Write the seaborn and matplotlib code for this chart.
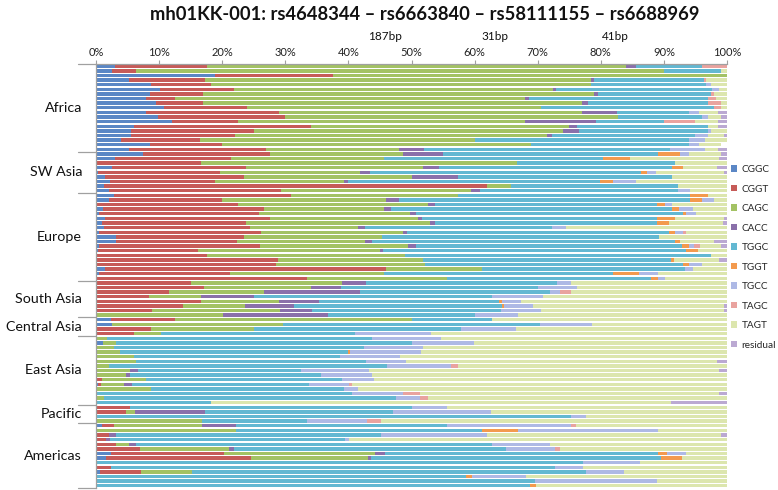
import numpy as np
import pandas as pd
import seaborn as sns
import matplotlib
matplotlib.use("Agg")
import matplotlib.pyplot as plt
from matplotlib.patches import Patch
from matplotlib.lines import Line2D
import matplotlib.transforms as mtransforms

# ---------------- data ----------------
title = "mh01KK-001: rs4648344 \u2013 rs6663840 \u2013 rs58111155 \u2013 rs6688969"
distances = ["187bp", "31bp", "41bp"]
haplotypes = ["CGGC", "CGGT", "CAGC", "CACC", "TGGC", "TGGT", "TGCC", "TAGC", "TAGT", "residual"]
colors = ["#5B87C5", "#C65B58", "#A3C264", "#8A70AA", "#63B8D2",
          "#F39A4E", "#AEB9E5", "#E9A39F", "#DCE6AE", "#BBA9D2"]
regions = ["Africa", "SW Asia", "Europe", "South Asia", "Central Asia",
           "East Asia", "Pacific", "Americas"]
x_ticks = [0, 10, 20, 30, 40, 50, 60, 70, 80, 90, 100]
x_tick_labels = [f"{v}%" for v in x_ticks]

# per-population haplotype frequencies (%), columns in order of `haplotypes`
africa = [
    [3.0, 14.6, 66.4, 1.5, 10.5, 0, 0, 4.0, 0, 0],
    [2.5, 3.9, 83.6, 0, 9.0, 0, 0, 0, 1.0, 0],
    [18.8, 18.8, 62.4, 0, 0, 0, 0, 0, 0, 0],
    [5.2, 12.0, 61.2, 0.5, 17.4, 0, 0, 0.4, 3.3, 0],
    [8.7, 9.6, 60.1, 0, 18.3, 0, 0.7, 0, 2.6, 0],
    [10.1, 11.7, 50.6, 0.5, 24.7, 0, 1.1, 0, 1.3, 0],
    [8.5, 8.5, 62.0, 0.6, 17.9, 0, 0, 0.5, 2.0, 0],
    [8.0, 4.5, 55.5, 0.6, 28.4, 0, 0, 1.2, 1.8, 0],
    [9.5, 7.5, 60.0, 1.0, 19.0, 0, 0, 2.0, 1.0, 0],
    [10.8, 13.2, 46.5, 0, 27.5, 0, 0, 1.0, 1.0, 0],
    [8.0, 21.0, 48.0, 5.6, 11.4, 0, 1.5, 0, 3.0, 1.5],
    [9.8, 20.2, 52.7, 0, 13.3, 0, 1.0, 0, 2.0, 1.0],
    [12.0, 10.5, 45.5, 11.2, 10.8, 0, 0, 5.0, 3.5, 1.5],
    [6.0, 28.0, 41.0, 1.3, 20.7, 0, 0, 0, 1.5, 1.5],
    [5.5, 19.5, 49.0, 2.5, 20.5, 0, 0.5, 0, 2.5, 0],
    [5.5, 16.5, 49.5, 0.7, 22.8, 0, 2.0, 0, 2.5, 0.5],
    [4.0, 12.5, 43.5, 0, 34.0, 0, 2.5, 0, 3.5, 0],
    [8.5, 11.5, 49.0, 0, 25.0, 0, 1.5, 0, 3.5, 0],
    [5.3, 21.7, 21.0, 4.0, 39.0, 0, 5.5, 0, 2.0, 1.5],
]
sw_asia = [
    [7.5, 20.0, 21.2, 6.3, 34.0, 3.6, 1.4, 0, 5.0, 1.0],
    [3.0, 18.4, 24.3, 0, 34.6, 4.3, 0, 0, 14.1, 1.3],
    [0.2, 16.5, 50.0, 0, 25.1, 0, 0, 0, 8.2, 0],
    [2.6, 21.1, 28.1, 2.6, 36.9, 1.8, 0, 0, 5.3, 1.6],
    [0.3, 19.4, 22.2, 1.6, 42.8, 1.1, 1.3, 0, 10.8, 0.5],
    [1.4, 22.1, 26.5, 7.4, 33.9, 0, 0, 0, 8.7, 0],
    [2.2, 16.6, 20.5, 0.7, 39.9, 2.1, 3.6, 0, 14.4, 0],
    [1.3, 60.6, 3.9, 0, 26.4, 0, 0, 0, 7.8, 0],
    [2.0, 27.3, 30.2, 1.3, 31.4, 0, 1.9, 0, 5.9, 0],
]
europe = [
    [2.9, 28.0, 26.5, 0, 36.7, 2.9, 0, 0, 3.0, 0],
    [2.0, 18.0, 26.0, 2.0, 46.1, 1.9, 2.0, 0, 2.0, 0],
    [0.1, 22.4, 30.1, 1.2, 35.1, 1.3, 1.1, 0, 8.7, 0],
    [1.1, 25.6, 19.0, 1.0, 44.6, 1.1, 2.2, 0, 5.4, 0],
    [0.5, 25.3, 23.9, 1.0, 42.4, 0.4, 1.6, 0, 4.9, 0],
    [1.5, 26.1, 23.5, 0.5, 37.3, 2.9, 0, 0, 7.7, 0.5],
    [1.0, 22.7, 29.2, 0.9, 35.1, 1.9, 0, 0, 8.5, 0.7],
    [1.2, 23.2, 17.1, 1.2, 29.5, 0, 2.3, 0, 25.5, 0],
    [0.5, 25.6, 22.5, 0.7, 41.5, 1.0, 1.3, 0.4, 6.5, 0],
    [3.1, 20.4, 21.8, 0, 43.9, 0, 0, 0, 10.8, 0],
    [3.1, 19.3, 20.2, 1.1, 48.0, 0.9, 0, 0, 5.4, 2.0],
    [0.5, 25.5, 23.5, 1.2, 42.2, 1.0, 0.9, 1.0, 3.2, 1.0],
    [0.3, 15.8, 28.9, 0.5, 48.0, 1.9, 0, 0, 4.6, 0],
    [0, 17.6, 31.4, 0, 48.4, 0, 0, 0, 2.6, 0],
    [0, 28.8, 23.0, 0, 39.4, 0.4, 0, 0, 7.1, 1.3],
    [0, 28.6, 23.5, 0, 40.9, 1.0, 2.1, 0, 3.9, 0],
    [1.5, 44.5, 15.2, 0, 32.1, 0, 1.3, 0, 5.4, 0],
    [0.5, 20.7, 24.4, 0, 36.4, 4.0, 3.0, 0, 11.0, 0],
    [0, 33.5, 22.1, 0, 32.3, 1.2, 1.1, 0, 9.8, 0],
]
south_asia = [
    [0, 15.1, 23.9, 3.8, 30.2, 0, 2.2, 0, 24.8, 0],
    [0, 17.1, 16.9, 4.9, 31.2, 0, 6.2, 0, 23.7, 0],
    [0, 11.6, 15.1, 15.1, 30.1, 0, 1.6, 1.7, 24.8, 0],
    [0, 8.4, 8.3, 8.4, 37.6, 0, 8.2, 0, 29.1, 0],
    [0, 16.7, 12.3, 6.4, 28.5, 0.4, 3.0, 0, 32.7, 0],
    [0, 13.8, 9.8, 7.8, 33.0, 0.3, 4.6, 0, 30.2, 0.5],
    [0, 8.8, 20.4, 5.1, 29.9, 0, 6.3, 0, 29.0, 0.5],
    [0, 0, 20.1, 16.7, 23.3, 0, 6.7, 0, 33.2, 0],
]
central_asia = [
    [2.3, 10.2, 37.5, 0, 12.7, 0, 0, 0, 37.3, 0],
    [2.6, 0, 27.1, 0, 40.7, 0, 8.2, 0, 21.4, 0],
    [0, 8.7, 16.4, 0, 32.7, 0, 8.7, 0, 33.5, 0],
    [0, 6.1, 4.2, 0, 30.7, 0, 12.1, 0, 46.9, 0],
]
east_asia = [
    [0, 0, 1.8, 0, 41.9, 0, 11.0, 0, 45.3, 0],
    [1.1, 0, 2.0, 0, 47.0, 0, 9.8, 0, 40.1, 0],
    [0, 0, 2.9, 0, 39.6, 0, 9.3, 0, 48.2, 0],
    [0, 0, 3.8, 0, 36.1, 0.4, 11.2, 0, 48.5, 0],
    [0, 0, 6.1, 0, 32.6, 0, 9.5, 0, 51.8, 0],
    [0, 0, 6.3, 0, 36.5, 0, 6.4, 0, 49.2, 1.6],
    [0, 0, 2.1, 0, 44.0, 0, 10.2, 1.0, 42.7, 0],
    [0, 0, 5.4, 1.3, 25.8, 0, 10.8, 0, 55.4, 1.3],
    [0, 0, 4.8, 0.6, 30.2, 0, 8.1, 0, 56.3, 0],
    [0, 1.0, 7.0, 0, 31.0, 0, 5.0, 0, 56.0, 0],
    [0.3, 0.5, 3.6, 1.3, 28.0, 0, 6.4, 0.5, 59.4, 0],
    [0, 0, 8.7, 0, 30.6, 0, 2.2, 0, 58.5, 0],
    [0, 0, 0, 0, 40.6, 0, 8.1, 2.7, 47.3, 1.3],
    [0, 0, 1.2, 0, 46.3, 0, 3.9, 1.2, 47.4, 0],
    [0, 0, 0, 0, 18.2, 0, 0, 0, 73.0, 8.8],
]
pacific = [
    [0, 5.4, 0, 0, 44.7, 0, 5.6, 0, 44.3, 0],
    [0, 4.7, 1.5, 11.0, 29.9, 0, 15.5, 0, 37.4, 0],
    [0, 0, 0, 0, 75.2, 0, 2.4, 0, 22.4, 0],
    [0, 0, 16.8, 0, 16.7, 0, 9.4, 2.3, 54.8, 0],
]
americas = [
    [0.9, 1.9, 14.0, 5.4, 33.4, 0, 19.6, 0.9, 23.9, 0],
    [0, 0, 22.2, 0, 39.0, 5.6, 22.2, 0, 11.0, 0],
    [0, 2.0, 0, 1.1, 42.1, 0, 16.8, 0, 37.0, 1.0],
    [0, 1.6, 0, 0.6, 37.3, 0, 0.6, 0, 59.9, 0],
    [0, 3.1, 2.1, 1.1, 56.4, 0, 9.3, 0, 28.0, 0],
    [0, 7.0, 14.1, 0.8, 43.1, 0, 7.7, 0.8, 26.5, 0],
    [2.3, 18.0, 23.9, 1.6, 43.3, 1.4, 3.0, 0, 6.5, 0],
    [1.6, 22.9, 18.6, 0.5, 45.9, 3.3, 0, 0, 7.2, 0],
    [0, 0, 0, 0, 77.2, 0, 9.0, 0, 13.8, 0],
    [0, 2.4, 0, 0, 70.3, 0, 4.5, 0, 22.8, 0],
    [0.6, 6.5, 8.1, 0, 62.5, 0, 5.9, 0, 16.4, 0],
    [0, 0, 0, 0, 58.7, 0.9, 8.6, 0, 31.8, 0],
    [0, 0, 0, 0, 69.5, 0, 19.4, 0, 11.1, 0],
    [0, 0, 0, 0, 68.8, 0.9, 0, 0, 30.3, 0],
]
region_tables = [africa, sw_asia, europe, south_asia, central_asia,
                 east_asia, pacific, americas]

# ---------------- build table ----------------
records = []
for reg, table in zip(regions, region_tables):
    for i, vals in enumerate(table):
        records.append([reg, f"{reg} {i+1}"] + list(vals))
df = pd.DataFrame(records, columns=["region", "pop"] + haplotypes)
order = list(df["pop"])
cum = df[haplotypes].cumsum(axis=1)
cum = cum.clip(upper=100)

# ---------------- figure ----------------
sns.set_theme(style="white")
plt.rcParams["font.family"] = ["Lato", "DejaVu Sans"]

W, H = 778, 490
fig = plt.figure(figsize=(W / 100, H / 100), dpi=100)
ax_l, ax_r, ax_t, ax_b = 96, 727, 64, 488
ax = fig.add_axes([ax_l / W, 1 - ax_b / H, (ax_r - ax_l) / W, (ax_b - ax_t) / H])

# stacked bars: draw cumulative totals from the last haplotype to the first
for k in range(len(haplotypes) - 1, -1, -1):
    d = pd.DataFrame({"pop": order, "cum": cum[haplotypes[k]].values})
    sns.barplot(data=d, x="cum", y="pop", order=order, orient="h",
                color=colors[k], saturation=1, width=0.74, errorbar=None,
                linewidth=0, ax=ax)

n = len(order)
ax.set_xlim(0, 100)
ax.set_ylim(n - 0.5, -0.5)
ax.set_xlabel("")
ax.set_ylabel("")
ax.set_yticks([])
ax.xaxis.tick_top()
ax.set_xticks(x_ticks)
ax.set_xticklabels(x_tick_labels, fontsize=8, color="#222222")
ax.tick_params(axis="x", direction="out", length=3, width=0.8,
               color="#A0A0A0", pad=1, top=True, bottom=False)
for s in ["right", "bottom"]:
    ax.spines[s].set_visible(False)
for s in ["top", "left"]:
    ax.spines[s].set_color("#A0A0A0")
    ax.spines[s].set_linewidth(0.9)

# region separators and labels
trans = mtransforms.blended_transform_factory(ax.transAxes, ax.transData)
sizes = [len(t) for t in region_tables]
bounds = [-0.5]
for s_ in sizes:
    bounds.append(bounds[-1] + s_)
for b in bounds:
    ax.add_line(Line2D([-18 / 631, 0], [b, b], transform=trans,
                       color="#A0A0A0", lw=0.9, clip_on=False))
for reg, b0, b1 in zip(regions, bounds[:-1], bounds[1:]):
    ax.text(-14 / 631, (b0 + b1) / 2, reg, transform=trans, ha="right",
            va="center", fontsize=10.3, color="#111111")

# title and distance annotations
fig.text(425 / W, 1 - 14 / H, title, ha="center", va="center",
         fontsize=13.2, fontweight="bold", color="#111111")
for lab, xp in zip(distances, [385, 495, 615]):
    fig.text(xp / W, 1 - 36 / H, lab, ha="center", va="center",
             fontsize=8.5, color="#111111")

# legend
handles = [Patch(facecolor=c, edgecolor="none") for c in colors]
fig.legend(handles, haplotypes, loc="upper left",
           bbox_to_anchor=(731 / W, 1 - 165 / H), frameon=False,
           fontsize=7.2, handlelength=0.6, handleheight=0.6,
           handletextpad=0.45, labelspacing=1.05, borderpad=0,
           borderaxespad=0)

fig.savefig("out.png", dpi=100)
